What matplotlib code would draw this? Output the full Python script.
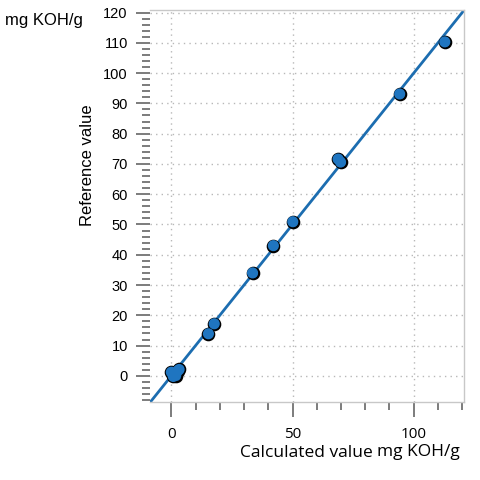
import matplotlib
matplotlib.use("Agg")
import matplotlib.pyplot as plt
from matplotlib.ticker import MultipleLocator

calculated = [0.0, 0.8, 1.8, 2.6, 3.2, 1.2, 15.3, 17.7, 33.5, 42.1, 50.1, 68.8, 69.8, 94.2, 112.8]
reference = [1.2, -0.2, 0.1, 1.6, 2.1, 0.6, 13.9, 17.2, 34.0, 43.0, 50.9, 71.6, 70.6, 93.1, 110.3]
fit_x = [-8.8, 120.8]
fit_y = [-8.8, 120.8]
xticks = [0, 50, 100]
yticks = list(range(0, 121, 10))

fig = plt.figure(figsize=(4.8, 4.8), dpi=100)
ax = fig.add_axes([0.3125, 0.1615, 0.6545, 0.8175])
ax.set_xlim(-8.8, 120.8)
ax.set_ylim(-8.8, 120.8)

ax.plot(fit_x, fit_y, color="#1c6db0", lw=2.0, zorder=2)
# outline layer then face layer so overlapping markers merge
ax.scatter(calculated, reference, s=64, facecolor="#1f75c0", edgecolor="black", linewidth=1.8, zorder=3)
ax.scatter(calculated, reference, s=64, facecolor="#1f75c0", edgecolor="none", zorder=4)

ax.set_xticks(xticks)
ax.set_yticks(yticks)
ax.xaxis.set_minor_locator(MultipleLocator(10))
ax.yaxis.set_minor_locator(MultipleLocator(2))
ax.grid(True, which="major", linestyle=(0, (1, 3)), color="#b8b8b8", lw=1.0)

for s in ax.spines.values():
    s.set_color("#c8c8c8")
    s.set_linewidth(1.0)
ax.spines["left"].set_visible(False)

ax.tick_params(axis="y", which="major", length=10, width=1.2, color="#666666", pad=6)
ax.tick_params(axis="y", which="minor", length=6, width=1.2, color="#666666")
ax.tick_params(axis="x", which="major", length=10.8, width=1.2, color="#666666", pad=7)
ax.tick_params(axis="x", which="minor", length=5.8, width=1.2, color="#666666")

for lab in ax.get_yticklabels():
    lab.set_fontfamily("Liberation Sans")
    lab.set_fontsize(10.5)
for lab in ax.get_xticklabels():
    lab.set_fontfamily("Open Sans")
    lab.set_fontsize(11)

fig.text(0.183, 0.655, "Reference value", rotation=90, ha="center", va="center",
         fontfamily="Liberation Sans", fontsize=12)
fig.text(0.01, 0.957, "mg KOH/g", ha="left", va="center",
         fontfamily="Liberation Sans", fontsize=12)
fig.text(0.776, 0.056, "Calculated value", ha="right", va="center",
         fontfamily="Open Sans", fontsize=12.5)
fig.text(0.786, 0.058, "mg KOH/g", ha="left", va="center",
         fontfamily="Open Sans", fontsize=12.5)

fig.savefig("out.png", dpi=100)
